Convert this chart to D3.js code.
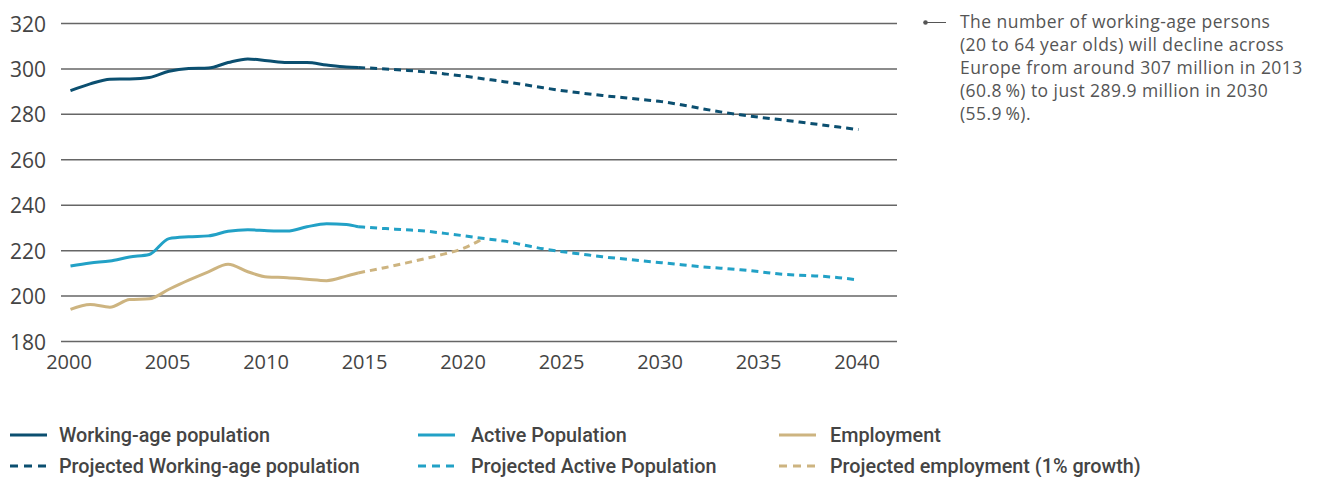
<!DOCTYPE html>
<html>
<head>
<meta charset="utf-8">
<script src="https://cdn.jsdelivr.net/npm/d3@7"></script>
<style>
  html, body { margin: 0; padding: 0; background: #fff; }
  svg { display: block; }
</style>
</head>
<body>
<svg id="chart" width="1319" height="477"></svg>
<script>
// Working-age population, active population and employment in Europe (millions)
const yearsActual = [2000, 2001, 2002, 2003, 2004, 2005, 2006, 2007, 2008, 2009, 2010, 2011, 2012, 2013, 2014, 2014.6];
const workingAge = [290.4, 293.4, 295.5, 295.6, 296.2, 299.0, 300.2, 300.4, 302.8, 304.4, 303.6, 302.8, 302.8, 301.7, 300.8, 300.6];
const activePop = [213.2, 214.6, 215.4, 217.2, 218.3, 225.3, 226.1, 226.5, 228.5, 229.2, 228.8, 228.6, 230.5, 231.8, 231.5, 230.5];
const employment = [194.1, 196.3, 195.1, 198.5, 198.8, 203.0, 207.0, 210.7, 214.0, 210.7, 208.4, 208.1, 207.4, 206.8, 208.8, 210.2];

const yearsProj = [2014.6, 2016, 2017, 2018, 2019, 2020, 2021, 2022, 2023, 2024, 2025, 2026, 2027, 2028, 2029, 2030,
                   2031, 2032, 2033, 2034, 2035, 2036, 2037, 2038, 2039, 2040];
const workingAgeProj = [300.6, 300.0, 299.4, 298.7, 297.8, 296.8, 295.6, 294.4, 293.1, 291.7, 290.4, 289.3, 288.3, 287.4, 286.5, 285.6,
                        284.2, 282.6, 281.1, 279.8, 278.7, 277.7, 276.6, 275.5, 274.4, 273.3];
const activeProj = [230.5, 229.7, 229.2, 228.6, 227.6, 226.5, 225.3, 224.2, 222.5, 220.8, 219.5, 218.4, 217.3, 216.4, 215.5, 214.7,
                    213.8, 212.9, 212.3, 211.6, 210.7, 209.7, 209.2, 208.8, 208.1, 207.1];
const yearsEmpProj = [2014.6, 2016, 2017, 2018, 2019, 2020, 2020.8];
const employmentProj = [210.2, 212.6, 214.5, 216.5, 218.6, 221.2, 224.6];

const yTicks = [180, 200, 220, 240, 260, 280, 300, 320];
const xTicks = [2000, 2005, 2010, 2015, 2020, 2025, 2030, 2035, 2040];

const legendLabels = ["Working-age population", "Active Population", "Employment",
                      "Projected Working-age population", "Projected Active Population", "Projected employment (1% growth)"];
const noteLines = ["The number of working-age persons", "(20 to 64 year olds) will decline across",
                   "Europe from around 307 million in 2013", "(60.8\u2009%) to just 289.9 million in 2030", "(55.9\u2009%)."];

const colors = { work: "#0b4f70", active: "#22a1c6", emp: "#cdb480" };
const dash = "7,5";

const svg = d3.select("#chart");
const font = "'Open Sans', sans-serif";

const x = d3.scaleLinear().domain([2000, 2040]).range([70.5, 858.5]);
const y = d3.scaleLinear().domain([180, 320]).range([341.5, 23.5]);

// grid lines
const gridX0 = 61, gridX1 = 897;
svg.append("g").selectAll("line").data(yTicks).join("line")
  .attr("x1", gridX0).attr("x2", gridX1)
  .attr("y1", d => y(d)).attr("y2", d => y(d))
  .attr("stroke", "#666").attr("stroke-width", 1.5);

// y axis labels
const yAxis = svg.append("g").attr("transform", "translate(46,0)")
  .call(d3.axisLeft(y).tickValues(yTicks).tickSize(0).tickPadding(0));
yAxis.select(".domain").remove();
yAxis.selectAll("text").attr("font-family", font).attr("font-size", 21).attr("fill", "#444").attr("dy", "0.36em");

// x axis labels
const xAxis = svg.append("g").attr("transform", "translate(-2,355)")
  .call(d3.axisBottom(x).tickValues(xTicks).tickFormat(d3.format("d")).tickSize(0).tickPadding(0));
xAxis.select(".domain").remove();
xAxis.selectAll("text").attr("font-family", font).attr("font-size", 20).attr("fill", "#444").attr("dy", "0.71em");

const line = d3.line().x(d => x(d[0])).y(d => y(d[1])).curve(d3.curveMonotoneX);
const zip = (a, b) => a.map((v, i) => [v, b[i]]);

const series = [
  { xs: yearsProj, ys: workingAgeProj, c: colors.work, dashed: true },
  { xs: yearsProj, ys: activeProj, c: colors.active, dashed: true },
  { xs: yearsEmpProj, ys: employmentProj, c: colors.emp, dashed: true },
  { xs: yearsActual, ys: workingAge, c: colors.work, dashed: false },
  { xs: yearsActual, ys: activePop, c: colors.active, dashed: false },
  { xs: yearsActual, ys: employment, c: colors.emp, dashed: false }
];
svg.append("g").selectAll("path").data(series).join("path")
  .attr("d", d => line(zip(d.xs, d.ys)))
  .attr("fill", "none").attr("stroke", d => d.c).attr("stroke-width", 3)
  .attr("stroke-dasharray", d => d.dashed ? dash : null);

// annotation
const note = svg.append("g");
note.append("circle").attr("cx", 925.5).attr("cy", 22.5).attr("r", 2.3).attr("fill", "#555");
note.append("line").attr("x1", 926).attr("x2", 946).attr("y1", 22.5).attr("y2", 22.5).attr("stroke", "#555").attr("stroke-width", 1);
note.append("text").attr("font-family", font).attr("font-size", 17.5).attr("letter-spacing", 0.45).attr("fill", "#555")
  .selectAll("tspan").data(noteLines).join("tspan")
  .attr("x", 960).attr("y", (d, i) => 27.5 + i * 23).text(d => d);

// legend
const legLineX = [10, 418, 779];
const legTextX = [59, 471, 830];
const legRows = [435, 466];
const legItems = legendLabels.map((t, i) => ({
  t, col: i % 3, row: Math.floor(i / 3),
  c: [colors.work, colors.active, colors.emp][i % 3]
}));
const lg = svg.append("g").selectAll("g").data(legItems).join("g");
lg.append("line")
  .attr("x1", d => legLineX[d.col]).attr("x2", d => legLineX[d.col] + 37)
  .attr("y1", d => legRows[d.row]).attr("y2", d => legRows[d.row])
  .attr("stroke", d => d.c).attr("stroke-width", 3)
  .attr("stroke-dasharray", d => d.row === 1 ? "8,6" : null);
lg.append("text").attr("x", d => legTextX[d.col]).attr("y", d => legRows[d.row]).attr("dy", "0.35em")
  .attr("font-family", "Roboto, sans-serif").attr("font-weight", 500).attr("font-size", 19.8).attr("fill", "#444")
  .text(d => d.t);
</script>
</body>
</html>
